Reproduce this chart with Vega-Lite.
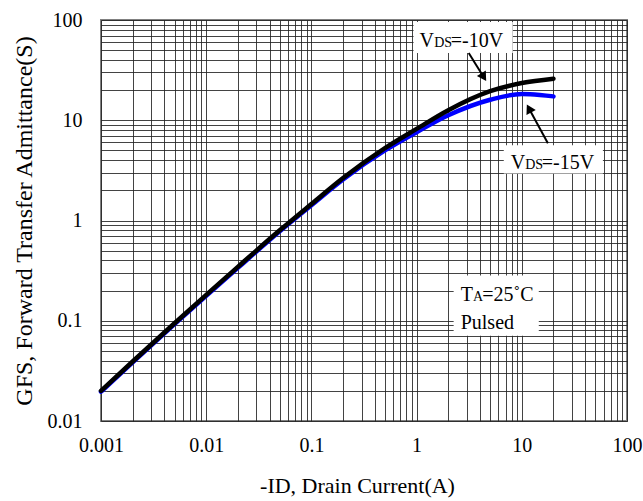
{
  "$schema": "https://vega.github.io/schema/vega-lite/v6.json",
  "width": 526,
  "height": 401,
  "autosize": {"type": "none"},
  "padding": {"left": 101, "top": 20, "right": 16, "bottom": 80},
  "background": "white",
  "config": {
    "view": {"stroke": "#808080", "strokeWidth": 2},
    "font": "Liberation Serif",
    "axis": {
      "labelFont": "Liberation Serif",
      "titleFont": "Liberation Serif",
      "labelFontSize": 20,
      "titleFontSize": 22,
      "titleFontWeight": "normal",
      "labelColor": "#000",
      "titleColor": "#000",
      "grid": true,
      "gridColor": "#222",
      "gridWidth": 1,
      "gridOpacity": 0.85,
      "ticks": false,
      "tickSize": 0,
      "domain": false
    }
  },
  "layer": [
    {
      "data": {"values": [
        {"x": 0.935, "x2": 8.2, "y": 46.8, "y2": 95.5},
        {"x": 6.74, "x2": 59, "y": 2.95, "y2": 5.62},
        {"x": 2.25, "x2": 14.5, "y": 0.0708, "y2": 0.282}
      ]},
      "mark": {"type": "rect", "fill": "white", "stroke": null},
      "encoding": {
        "x": {"field": "x", "type": "quantitative", "scale": {"type": "log", "domain": [0.001, 100]},
          "title": "-ID, Drain Current(A)",
          "axis": {
            "values": [0.001,0.002,0.003,0.004,0.005,0.006,0.007,0.008,0.009,0.01,0.02,0.03,0.04,0.05,0.06,0.07,0.08,0.09,0.1,0.2,0.3,0.4,0.5,0.6,0.7,0.8,0.9,1,2,3,4,5,6,7,8,9,10,20,30,40,50,60,70,80,90,100],
            "labelExpr": "indexof([0.001,0.01,0.1,1,10,100], datum.value) >= 0 ? '' + datum.value : ''",
            "labelPadding": 14,
            "titleX": 256,
            "titleY": 71,
            "titleAlign": "center",
            "titleBaseline": "alphabetic",
            "labelFlush": false,
            "labelOverlap": false
          }},
        "x2": {"field": "x2"},
        "y": {"field": "y", "type": "quantitative", "scale": {"type": "log", "domain": [0.01, 100]},
          "title": "GFS, Forward Transfer Admittance(S)",
          "axis": {
            "values": [0.01,0.02,0.03,0.04,0.05,0.06,0.07,0.08,0.09,0.1,0.2,0.3,0.4,0.5,0.6,0.7,0.8,0.9,1,2,3,4,5,6,7,8,9,10,20,30,40,50,60,70,80,90,100],
            "labelExpr": "indexof([0.01,0.1,1,10,100], datum.value) >= 0 ? '' + datum.value : ''",
            "labelPadding": 19,
            "titleFontSize": 24,
            "titlePadding": 11,
            "labelFlush": false,
            "labelOverlap": false
          }},
        "y2": {"field": "y2"}
      }
    },
    {
      "data": {"values": [
        {"series": "-15V", "x": 0.001, "y": 0.0196},
        {"series": "-15V", "x": 0.002, "y": 0.0384},
        {"series": "-15V", "x": 0.005, "y": 0.0925},
        {"series": "-15V", "x": 0.01, "y": 0.177},
        {"series": "-15V", "x": 0.02, "y": 0.337},
        {"series": "-15V", "x": 0.05, "y": 0.78},
        {"series": "-15V", "x": 0.1, "y": 1.42},
        {"series": "-15V", "x": 0.2, "y": 2.57},
        {"series": "-15V", "x": 0.5, "y": 5.0},
        {"series": "-15V", "x": 1, "y": 7.6},
        {"series": "-15V", "x": 2, "y": 11.2},
        {"series": "-15V", "x": 5, "y": 16.0},
        {"series": "-15V", "x": 10, "y": 18.3},
        {"series": "-15V", "x": 12, "y": 18.2},
        {"series": "-15V", "x": 20, "y": 17.3},
        {"series": "-10V", "x": 0.001, "y": 0.02},
        {"series": "-10V", "x": 0.002, "y": 0.0392},
        {"series": "-10V", "x": 0.005, "y": 0.0944},
        {"series": "-10V", "x": 0.01, "y": 0.181},
        {"series": "-10V", "x": 0.02, "y": 0.345},
        {"series": "-10V", "x": 0.05, "y": 0.798},
        {"series": "-10V", "x": 0.1, "y": 1.46},
        {"series": "-10V", "x": 0.2, "y": 2.65},
        {"series": "-10V", "x": 0.5, "y": 5.27},
        {"series": "-10V", "x": 1, "y": 8.2},
        {"series": "-10V", "x": 2, "y": 12.6},
        {"series": "-10V", "x": 5, "y": 19.5},
        {"series": "-10V", "x": 10, "y": 23.5},
        {"series": "-10V", "x": 20, "y": 26}
      ]},
      "mark": {"type": "line", "strokeWidth": 4.5, "interpolate": "monotone", "strokeCap": "round"},
      "encoding": {
        "x": {"field": "x", "type": "quantitative"},
        "y": {"field": "y", "type": "quantitative"},
        "color": {"field": "series", "type": "nominal", "scale": {"domain": ["-15V", "-10V"], "range": ["#0000ff", "#000000"]}, "legend": null},
        "order": {"field": "x", "type": "quantitative"}
      }
    },
    {
      "data": {"values": [
        {"x": 3.13, "y": 46.8, "x2": 4.35, "y2": 26.9},
        {"x": 17.7, "y": 5.89, "x2": 11.7, "y2": 13.1}
      ]},
      "mark": {"type": "rule", "strokeWidth": 2, "color": "#000"},
      "encoding": {
        "x": {"field": "x", "type": "quantitative"},
        "y": {"field": "y", "type": "quantitative"},
        "x2": {"field": "x2"},
        "y2": {"field": "y2"}
      }
    },
    {
      "data": {"values": [{"x": 4.35, "y": 26.9}]},
      "mark": {"type": "point", "shape": "triangle-up", "filled": true, "color": "#000", "size": 110, "angle": 148, "opacity": 1},
      "encoding": {
        "x": {"field": "x", "type": "quantitative"},
        "y": {"field": "y", "type": "quantitative"}
      }
    },
    {
      "data": {"values": [{"x": 11.7, "y": 13.1}]},
      "mark": {"type": "point", "shape": "triangle-up", "filled": true, "color": "#000", "size": 110, "angle": 332, "opacity": 1},
      "encoding": {
        "x": {"field": "x", "type": "quantitative"},
        "y": {"field": "y", "type": "quantitative"}
      }
    },
    {
      "data": {"values": [
        {"x": 1.068, "y": 54.1, "t": "V"},
        {"x": 2.113, "y": 54.1, "t": "=-10V"},
        {"x": 7.856, "y": 3.29, "t": "V"},
        {"x": 15.5, "y": 3.29, "t": "=-15V"},
        {"x": 2.624, "y": 0.156, "t": "T"},
        {"x": 4.205, "y": 0.156, "t": "=25˚C"},
        {"x": 2.624, "y": 0.0826, "t": "Pulsed"}
      ]},
      "mark": {"type": "text", "align": "left", "baseline": "alphabetic", "fontSize": 20, "font": "Liberation Serif", "color": "#000"},
      "encoding": {
        "x": {"field": "x", "type": "quantitative"},
        "y": {"field": "y", "type": "quantitative"},
        "text": {"field": "t"}
      }
    },
    {
      "data": {"values": [
        {"x": 1.468, "y": 54.1, "t": "DS"},
        {"x": 10.77, "y": 3.29, "t": "DS"},
        {"x": 3.43, "y": 0.156, "t": "A"}
      ]},
      "mark": {"type": "text", "align": "left", "baseline": "alphabetic", "fontSize": 14, "font": "Liberation Serif", "color": "#000"},
      "encoding": {
        "x": {"field": "x", "type": "quantitative"},
        "y": {"field": "y", "type": "quantitative"},
        "text": {"field": "t"}
      }
    }
  ]
}
